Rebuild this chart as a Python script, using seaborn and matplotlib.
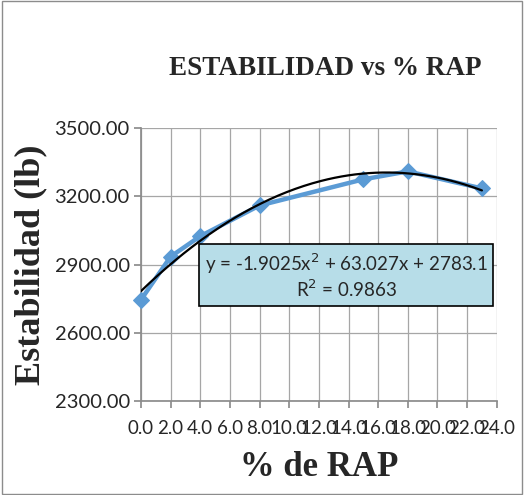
import numpy as np
import pandas as pd
import matplotlib.pyplot as plt
import seaborn as sns

# % RAP vs stability (lb)
rap = [0, 2, 4, 8, 15, 18, 23]
estabilidad = [2745, 2935, 3025, 3160, 3275, 3310, 3235]

# polynomial trendline coefficients as shown on the chart
coef = [-1.9025, 63.027, 2783.1]
r2 = 0.9863

y_ticks = [2300, 2600, 2900, 3200, 3500]
x_ticks = list(range(0, 25, 2))

sns.set_theme(style="white")
plt.rcParams['font.family'] = ['Lato', 'DejaVu Sans']

fig = plt.figure(figsize=(5.24, 4.95), dpi=100)
ax = fig.add_axes([0.269, 0.19, 0.679, 0.551])

df = pd.DataFrame({"rap": rap, "est": estabilidad})
sns.lineplot(data=df, x="rap", y="est", ax=ax, color="#5b9bd5", linewidth=3.2,
             marker="D", markersize=8, markeredgecolor="#5b9bd5", zorder=3,
             clip_on=False)

xs = np.linspace(min(rap), max(rap), 200)
ax.plot(xs, np.polyval(coef, xs), color="black", linewidth=1.6, zorder=4)

ax.set_xlim(0, 24)
ax.set_ylim(2300, 3500)
ax.set_xticks(x_ticks)
ax.set_yticks(y_ticks)
ax.set_xticklabels([f"{v:.1f}" for v in x_ticks], fontsize=13.5)
ax.set_yticklabels([f"{v:.2f}" for v in y_ticks], fontsize=14.5)
ax.grid(True, color="#a6a6a6", linewidth=0.9)
for s in ["top", "right"]:
    ax.spines[s].set_visible(False)
for s in ["left", "bottom"]:
    ax.spines[s].set_color("#8c8c8c")
ax.tick_params(axis="both", length=5, color="#8c8c8c", direction="out",
               bottom=True, left=True, pad=3)
ax.tick_params(axis="x", pad=9)

serif = ['Liberation Serif', 'DejaVu Serif']
ax.set_xlabel("% de RAP", fontsize=25, fontweight="bold", family=serif, labelpad=10)
ax.set_ylabel("Estabilidad (lb)", fontsize=26, fontweight="bold", family=serif, labelpad=5)
fig.text(0.62, 0.862, "ESTABILIDAD vs % RAP", fontsize=19.5, fontweight="bold",
         family=serif, ha="center", va="center")

eq = f"y = {coef[0]}x$^2$ + {coef[1]}x + {coef[2]}\nR$^2$ = {r2}"
ax.text(0.661, 0.443, eq, transform=fig.transFigure, fontsize=13.5, ha="center",
        va="center", linespacing=1.15, zorder=5,
        bbox=dict(boxstyle="square,pad=0.3", facecolor="#b7dde8",
                  edgecolor="black", linewidth=1.2))

fig.patches.append(plt.Rectangle((0.003, 0.003), 0.994, 0.994, transform=fig.transFigure,
                                 fill=False, edgecolor="#8c8c8c", linewidth=1))

fig.savefig("out.png", dpi=100)
